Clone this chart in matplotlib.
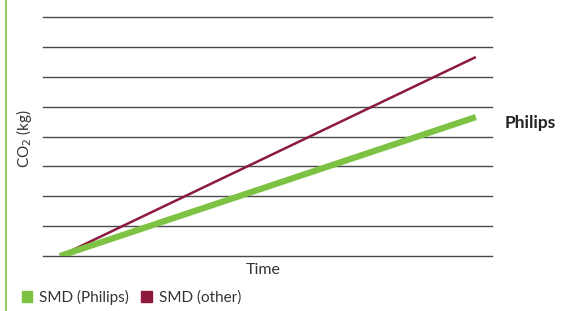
import matplotlib
matplotlib.use('Agg')
import matplotlib.pyplot as plt
from matplotlib.lines import Line2D
from matplotlib.patches import Patch

# data (arbitrary units)
time = [0.38, 9.64]
co2_philips = [0.0, 4.65]
co2_other = [0.0, 6.66]
labels = ['SMD (Philips)', 'SMD (other)']
green = '#7DC242'
red = '#8C1A3C'

plt.rcParams['font.family'] = ['Lato', 'DejaVu Sans']

fig = plt.figure(figsize=(5.71, 3.11), dpi=100)
W, H = 571, 311
ax = fig.add_axes([43 / W, (H - 256) / H, (492 - 43) / W, (256 - 17) / H])

ax.plot(time, co2_other, color=red, lw=1.8, solid_capstyle='butt', zorder=3)
ax.plot(time, co2_philips, color=green, lw=4.5, solid_capstyle='butt', zorder=4)

ax.set_xlim(0, 10)
ax.set_ylim(0, 8)
for y in range(9):
    ax.axhline(y, color='#4a4a4a', lw=1.0, clip_on=False, zorder=1)
ax.set_xticks([])
ax.set_yticks([])
for s in ax.spines.values():
    s.set_visible(False)

ax.set_xlabel('Time', fontsize=11.5, color='#333333', labelpad=5, x=0.49)
fig.text(24 / W, (H - 139) / H, 'CO$_2$ (kg)', rotation=90, fontsize=11,
         color='#333333', ha='center', va='center')
fig.text(505 / W, (H - 123) / H, 'Philips', fontsize=12.5, fontweight='bold',
         color='#222222', ha='left', va='center')

# green vertical rule on the left
fig.add_artist(Line2D([6 / W, 6 / W], [0, 1], color=green, lw=1.2))

handles = [Patch(color=green), Patch(color=red)]
fig.legend(handles, labels, loc='lower left', bbox_to_anchor=(8 / W, -0.025),
           ncol=2, frameon=False, fontsize=11, handlelength=0.7, handleheight=0.7,
           handletextpad=0.45, columnspacing=0.8, labelcolor='#333333')

plt.savefig('out.png', dpi=100)
